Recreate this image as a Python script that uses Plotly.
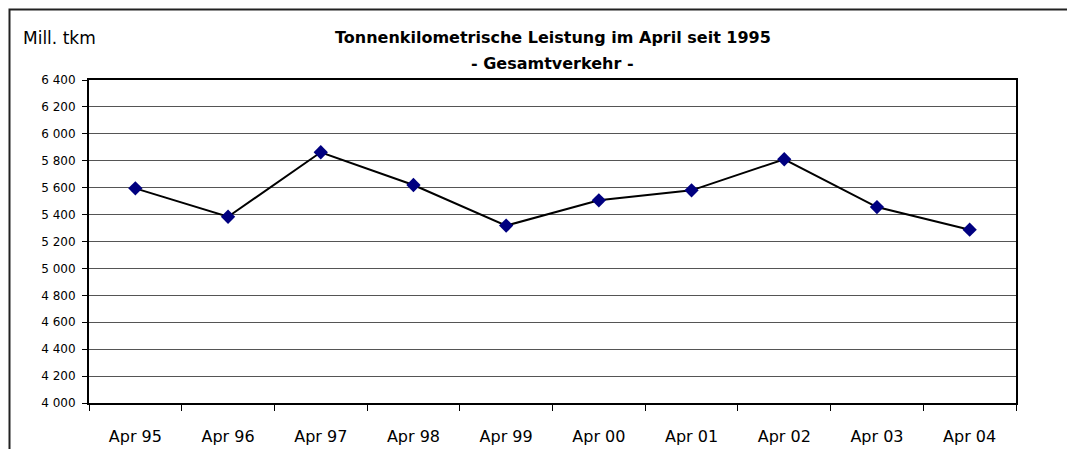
import plotly.graph_objects as go

categories = ["Apr 95", "Apr 96", "Apr 97", "Apr 98", "Apr 99",
              "Apr 00", "Apr 01", "Apr 02", "Apr 03", "Apr 04"]
values = [5595, 5384, 5863, 5620, 5318, 5506, 5580, 5811, 5456, 5288]
y_ticks = list(range(4000, 6401, 200))

FONT = "DejaVu Sans"
OFF = 8  # default page body margin
# keep the page inside the window (no scrollbars)
W, H = 1075 - 2 * OFF, 457 - 2 * OFF
L, T = 89 - OFF, 80 - OFF
R = W + OFF - 1016
B = H + OFF - 403
pw, ph = W - L - R, H - T - B

def px_x(x):
    return (x - OFF - L) / pw

def px_y(y):
    return (H - B - (y - OFF)) / ph

fig = go.Figure()
fig.add_trace(go.Scatter(
    x=categories, y=values, mode="lines+markers",
    line=dict(color="black", width=2),
    marker=dict(symbol="diamond", size=11, color="#000080",
                line=dict(color="#000080", width=0)),
    showlegend=False, hoverinfo="skip"))

fig.update_layout(
    width=W, height=H, autosize=False,
    margin=dict(l=L, r=R, t=T, b=B, pad=0, autoexpand=False),
    paper_bgcolor="white", plot_bgcolor="white",
    separators=", ",
    font=dict(family=FONT, color="black"),
    xaxis=dict(type="category", tickson="boundaries", ticks="outside",
               ticklen=6, tickcolor="black", tickwidth=1,
               ticklabelstandoff=18, automargin=False,
               showline=True, linecolor="black", linewidth=2, mirror=True,
               showgrid=False, tickfont=dict(size=16, family=FONT),
               range=[-0.5, len(categories) - 0.5]),
    yaxis=dict(range=[4000, 6400], tickvals=y_ticks, tickformat=",d",
               ticks="outside", ticklen=5, tickcolor="black", tickwidth=1,
               ticklabelstandoff=4, automargin=False,
               showline=True, linecolor="black", linewidth=2, mirror=True,
               showgrid=True, gridcolor="#555555", gridwidth=1,
               zeroline=False, tickfont=dict(size=12, family=FONT)),
)

# outer frame: only its top and left sides are visible in the picture
xl, xr = px_x(9.5), px_x(1090)
yt, yb = px_y(9.5), px_y(470)
fig.add_shape(type="path", xref="paper", yref="paper",
              path=f"M {xr} {yt} L {xl} {yt} L {xl} {yb}",
              line=dict(color="#222222", width=2), layer="below")

fig.add_annotation(xref="paper", yref="paper", x=px_x(21),
                   y=px_y(38), xanchor="left", yanchor="middle",
                   text="Mill. tkm", showarrow=False,
                   font=dict(size=17, family=FONT))
fig.add_annotation(xref="paper", yref="paper", x=0.5,
                   y=px_y(37), xanchor="center", yanchor="middle",
                   text="<b>Tonnenkilometrische Leistung im April seit 1995</b>",
                   showarrow=False, font=dict(size=16, family=FONT))
fig.add_annotation(xref="paper", yref="paper", x=0.5,
                   y=px_y(63), xanchor="center", yanchor="middle",
                   text="<b>- Gesamtverkehr -</b>",
                   showarrow=False, font=dict(size=16, family=FONT))

fig.write_html("out.html")
